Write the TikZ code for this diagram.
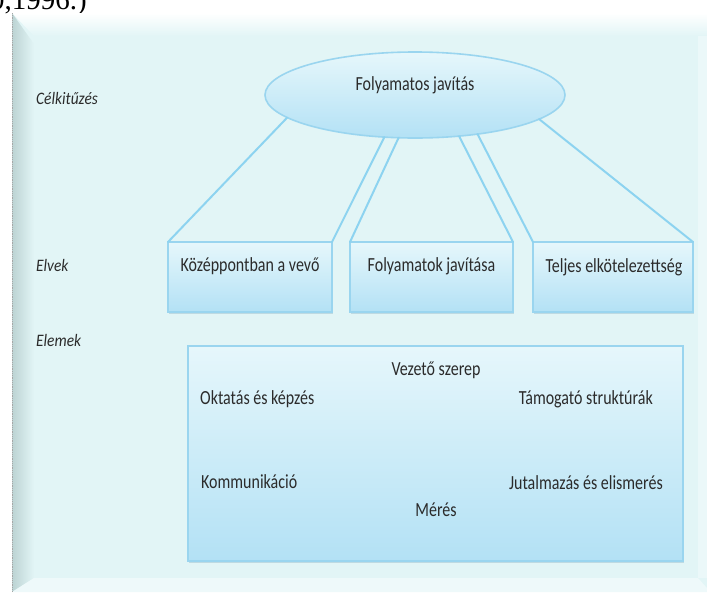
\documentclass[tikz,border=0pt]{standalone}
\usepackage{fontspec}
\setmainfont{Carlito}
\newfontfamily\itemfont{Carlito}[FakeStretch=0.8]
\newfontfamily\levelfont{Carlito}[FakeStretch=0.88]
\newfontfamily\citefont{Liberation Serif}
\usetikzlibrary{shapes.geometric,shadows}

\definecolor{panelface}{HTML}{E2F5F6}
\definecolor{paneledge}{HTML}{BCD3D3}
\definecolor{linkblue}{HTML}{8DD3F0}
\definecolor{boxedge}{HTML}{9AD5EF}
\definecolor{boxtop}{HTML}{E6F7FB}
\definecolor{boxbottom}{HTML}{B3E1F5}
\definecolor{inkgray}{HTML}{2B2B2B}

\tikzset{
  levellabel/.style={font=\levelfont\fontsize{17.5}{19}\selectfont\itshape, text=inkgray, anchor=west, inner sep=0pt},
  itemtext/.style={font=\itemfont\fontsize{20}{22}\selectfont, text=inkgray, inner sep=0pt},
  goalshape/.style={ellipse, draw=boxedge, line width=1.6pt, top color=boxtop, bottom color=boxbottom,
    minimum width=300pt, minimum height=86pt, inner sep=0pt, outer sep=0pt},
  principlebox/.style={rectangle, draw=boxedge, line width=1.2pt, top color=boxtop, bottom color=boxbottom,
    minimum height=70pt, inner sep=0pt, outer sep=0pt,
    drop shadow={opacity=0.35, shadow xshift=0.5pt, shadow yshift=-2pt, fill=boxedge!80!black}},
  elementbox/.style={rectangle, draw=boxedge, line width=1.2pt, top color=boxtop, bottom color=boxbottom,
    minimum width=495pt, minimum height=215pt, inner sep=0pt, outer sep=0pt,
    drop shadow={opacity=0.35, shadow xshift=0.5pt, shadow yshift=-2pt, fill=boxedge!80!black}},
  link/.style={draw=linkblue, line width=2pt, line cap=round},
}

\begin{document}
\begin{tikzpicture}[x=1pt,y=-1pt]
\useasboundingbox (0,0) rectangle (707,592);
\fill[white] (0,0) rectangle (707,592);

% citation fragment at the top edge
\node[anchor=base west, inner sep=0pt, font=\citefont\fontsize{29}{30}\selectfont] (cite) at (-10,9) {0,1996.)};

% bevelled background panel
\fill[panelface] (12,13) rectangle (707,592);
\shade[top color=white, bottom color=panelface] (12,13) -- (707,13) -- (707,36) -- (34,36) -- cycle;
\shade[left color=paneledge, right color=panelface] (12,13) -- (34,44) -- (34,578) -- (12,592) -- cycle;
\fill[panelface!60!white] (12,592) -- (34,578) -- (698,578) -- (707,588) -- (707,592) -- cycle;
\fill[panelface!70!white] (698,36) rectangle (707,578);
\draw[gray!70, densely dotted, line width=0.8pt] (12,13) -- (12,592);

% level labels
\node[levellabel] (lgoal) at (36,98) {Célkitűzés};
\node[levellabel] (lprinc) at (36,265) {Elvek};
\node[levellabel] (lelem) at (36,340) {Elemek};

% goal and principles
\node[goalshape] (goal) at (415,95) {};
\node[itemtext] (goaltext) at (415,85) {Folyamatos javítás};

\node[principlebox, minimum width=164pt] (p1) at (250,277) {};
\node[principlebox, minimum width=163pt] (p2) at (431.5,277) {};
\node[principlebox, minimum width=160pt] (p3) at (613,277) {};

\draw[link] (goal.190.7) -- (p1.north west);
\draw[link] (goal.234) -- (p1.north east);
\draw[link] (goal.249) -- (p2.north west);
\draw[link] (goal.317.5) -- (p2.north east);
\draw[link] (goal.328) -- (p3.north west);
\draw[link] (goal.349) -- (p3.north east);

\node[itemtext] (p1text) at (250,266) {Középpontban a vevő};
\node[itemtext] (p2text) at (431.5,266) {Folyamatok javítása};
\node[itemtext] (p3text) at (614,267) {Teljes elkötelezettség};

% elements
\node[elementbox] (elems) at (435.5,453.5) {};
\node[itemtext] (e1) at (436,370) {Vezető szerep};
\node[itemtext, anchor=west] (e2) at (200,399) {Oktatás és képzés};
\node[itemtext, anchor=east] (e3) at (653,399) {Támogató struktúrák};
\node[itemtext, anchor=west] (e4) at (201,482) {Kommunikáció};
\node[itemtext, anchor=east] (e5) at (663,483) {Jutalmazás és elismerés};
\node[itemtext] (e6) at (436,510) {Mérés};
\end{tikzpicture}
\end{document}
